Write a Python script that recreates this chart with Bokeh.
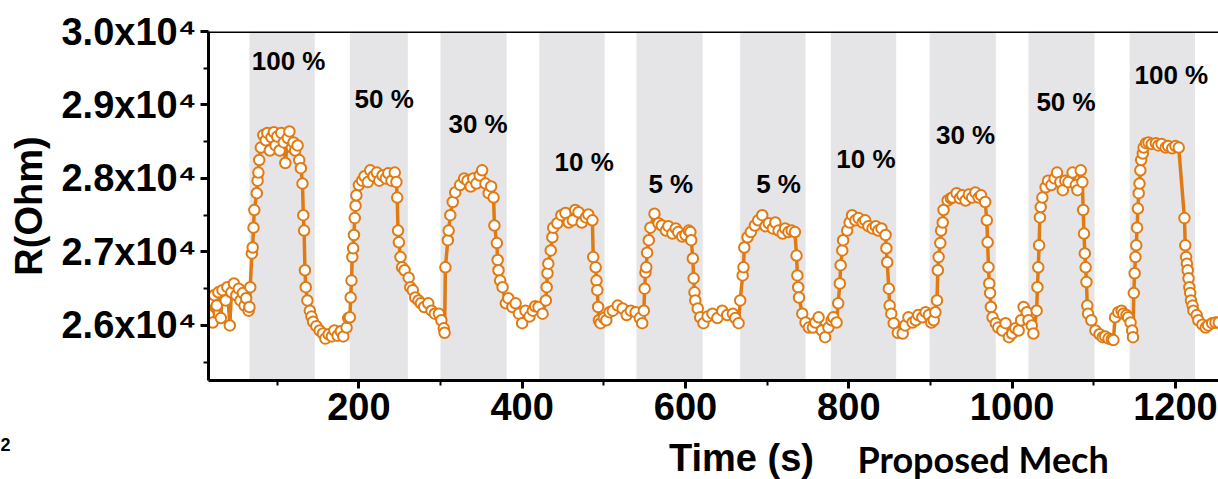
import math
from bokeh.plotting import figure
from bokeh.layouts import column
from bokeh.models import FixedTicker, Range1d, Label, Span, ColumnDataSource
from bokeh.core.properties import value
from bokeh.embed import file_html
from bokeh.resources import INLINE

# ---------------- data ----------------
t_base = [16, 18, 21, 23, 26, 28, 31, 33, 37, 39, 42, 44, 47, 50, 53, 55, 58, 60, 62, 65]
r_base = [26140, 26340, 26040, 26410, 26270, 26450, 26100, 26480, 26340, 26520, 26000, 26450,
          26570, 26410, 26500, 26340, 26440, 26270, 26370, 26200]

t_c1 = [66, 67, 69, 70, 71, 72, 75, 76, 77, 78, 80, 83, 86, 88, 91, 93, 96, 98, 100, 103, 105, 108,
        110, 113, 115, 118, 120, 122, 125, 127, 129, 131, 132, 133, 134, 135, 137, 140, 142, 144,
        148, 152, 156, 159, 163, 167, 170, 174, 178, 181, 185, 187]
r_c1 = [26250, 26520, 26980, 27060, 27330, 27570, 27800, 27970, 28080, 28250, 28420, 28590, 28520,
        28620, 28380, 28560, 28630, 28450, 28570, 28380, 28620, 28490, 28210, 28550, 28640, 28420,
        28490, 28380, 28450, 28250, 28140, 27930, 27500, 27290, 26750, 26520, 26340, 26200, 26120,
        26050, 25990, 25930, 25890, 25820, 25880, 25850, 25930, 25860, 25920, 25850, 25970, 26100]

t_c2 = [189, 190, 191, 192, 193, 194, 195, 196, 197, 200, 204, 207, 211, 214, 218, 222, 225, 229,
        233, 236, 240, 244, 246, 247, 248, 249, 251, 253, 256, 261, 263, 266, 269, 273, 276, 280,
        285, 289, 293, 298, 301, 304, 305]
r_c2 = [26110, 26380, 26610, 26930, 27050, 27230, 27460, 27630, 27770, 27910, 27970, 28030, 27950,
        28110, 28030, 28080, 27970, 28040, 28000, 28070, 27970, 28080, 27950, 27740, 27290, 27130,
        26930, 26790, 26750, 26650, 26520, 26480, 26380, 26340, 26300, 26250, 26300, 26200, 26160,
        26160, 26070, 25960, 25900]

t_c3 = [306, 309, 310, 312, 315, 318, 324, 329, 333, 337, 340, 344, 348, 351, 355, 359, 362, 365,
        366, 369, 370, 371, 373, 376, 380, 383, 388, 392, 396, 400, 404, 409, 413, 416, 420, 425]
r_c3 = [26790, 27160, 27290, 27500, 27680, 27810, 27910, 28000, 27970, 27890, 28000, 27930, 28040,
        28110, 27930, 27800, 27890, 27740, 27360, 27120, 26890, 26750, 26610, 26520, 26300, 26370,
        26250, 26300, 26160, 26030, 26200, 26120, 26200, 26260, 26250, 26160]

t_c4 = [429, 430, 431, 432, 435, 437, 438, 443, 448, 453, 457, 462, 465, 469, 473, 478, 481, 486,
        487, 490, 491, 492, 493, 494, 496, 500, 503, 507, 511, 517, 523, 528, 533, 539, 544, 547]
r_c4 = [26340, 26520, 26710, 26840, 27020, 27200, 27330, 27390, 27500, 27530, 27400, 27430, 27570,
        27540, 27400, 27470, 27510, 27430, 26930, 26790, 26610, 26480, 26250, 26070, 26030, 26100,
        26070, 26180, 26200, 26270, 26230, 26140, 26200, 26180, 26100, 26030]

t_c5 = [549, 550, 551, 552, 553, 555, 557, 562, 567, 571, 576, 579, 584, 588, 591, 596, 600, 604,
        606, 607, 609, 610, 611, 612, 615, 618, 622, 627, 633, 639, 645, 651, 658, 661, 665]
r_c5 = [26200, 26500, 26720, 26790, 26990, 27160, 27330, 27520, 27390, 27360, 27290, 27350, 27250,
        27320, 27270, 27210, 27230, 27290, 27270, 27160, 26910, 26640, 26450, 26340, 26230, 26110,
        26030, 26120, 26160, 26100, 26200, 26140, 26160, 26100, 26030]

t_c6 = [667, 670, 671, 672, 676, 680, 685, 689, 694, 698, 702, 707, 710, 714, 719, 722, 726, 730,
        734, 736, 737, 738, 739, 743, 747, 751, 756, 759, 763, 767, 771, 775, 779, 781, 785]
r_c6 = [26340, 26680, 26790, 27060, 27200, 27270, 27360, 27430, 27500, 27350, 27390, 27320, 27400,
        27290, 27250, 27320, 27270, 27290, 27270, 26950, 26680, 26520, 26380, 26160, 26040, 25970,
        25970, 26040, 26110, 25930, 25840, 25970, 26070, 26110, 26040]

t_c7 = [787, 789, 790, 792, 793, 798, 801, 804, 808, 812, 817, 820, 824, 829, 833, 836, 840, 845,
        846, 847, 849, 850, 852, 855, 860, 866, 869, 873, 878, 882, 885, 890, 894, 898, 901, 904, 906]
r_c7 = [26300, 26570, 26820, 27020, 27160, 27290, 27400, 27500, 27430, 27460, 27400, 27430, 27350,
        27320, 27350, 27290, 27320, 27230, 27050, 26860, 26500, 26270, 26160, 26030, 25900, 25890,
        26000, 26110, 26040, 26070, 26140, 26110, 26180, 26140, 26040, 26070, 26180]

t_c8 = [908, 909, 910, 912, 913, 915, 916, 921, 925, 927, 932, 936, 939, 943, 947, 951, 955, 959,
        962, 967, 969, 970, 971, 972, 973, 974, 976, 980, 983, 988, 992, 996, 1000, 1004, 1008,
        1011, 1014, 1018, 1020, 1024, 1026]
r_c8 = [26340, 26750, 26930, 27120, 27290, 27400, 27570, 27700, 27730, 27740, 27800, 27730, 27770,
        27700, 27780, 27740, 27810, 27740, 27770, 27680, 27430, 27130, 26790, 26570, 26440, 26250,
        26110, 26030, 25970, 25930, 26030, 25840, 25890, 25960, 25930, 26070, 26250, 26180, 26070,
        26000, 25890]

t_c9 = [1030, 1031, 1032, 1033, 1034, 1035, 1037, 1041, 1044, 1048, 1052, 1055, 1059, 1062, 1065,
        1069, 1074, 1078, 1080, 1084, 1086, 1087, 1088, 1089, 1090, 1091, 1092, 1093, 1097, 1102,
        1107, 1111, 1114, 1118, 1122, 1124, 1126, 1130, 1134, 1136, 1140, 1142, 1145, 1147, 1148]
r_c9 = [26200, 26520, 26790, 27090, 27470, 27610, 27740, 27880, 27970, 27910, 28000, 28080, 27950,
        27840, 27970, 27950, 28080, 27910, 27840, 28110, 27950, 27570, 27250, 26980, 26790, 26590,
        26270, 26160, 26070, 25930, 25880, 25840, 25850, 25820, 25810, 25800, 26110, 26180, 26200,
        26160, 26140, 26110, 26040, 25930, 25840]

t_c10 = [1149, 1150, 1151, 1152, 1153, 1154, 1155, 1156, 1157, 1158, 1160, 1161, 1164, 1167, 1171,
         1176, 1179, 1183, 1188, 1191, 1196, 1200, 1204, 1211, 1212, 1213, 1214, 1215, 1216, 1217,
         1218, 1219, 1221, 1222, 1226, 1228, 1233, 1237, 1240, 1245, 1249, 1253]
r_c10 = [26440, 26710, 26930, 27090, 27330, 27590, 27800, 27930, 28110, 28250, 28340, 28420, 28480,
         28490, 28470, 28480, 28450, 28470, 28420, 28440, 28410, 28440, 28420, 27460, 27090, 26930,
         26840, 26750, 26640, 26520, 26440, 26340, 26270, 26200, 26140, 26070, 26010, 25970, 26000,
         26030, 26040, 26040]

# gas-on intervals (s)
band_start = [66, 189, 300, 421, 540, 667, 778, 899, 1020, 1144]
band_end = [146, 260, 381, 501, 621, 747, 858, 980, 1101, 1224]

# concentration labels
conc_labels = ["100 %", "50 %", "30 %", "10 %", "5 %", "5 %", "10 %", "30 %", "50 %", "100 %"]
conc_t = [114, 231, 346, 476, 582, 714, 821, 943, 1066, 1195]
conc_r = [29596, 29085, 28738, 28220, 27927, 27927, 28261, 28595, 29044, 29405]

x_ticks = [200, 400, 600, 800, 1000, 1200]
x_minor = [100, 300, 500, 700, 900, 1100]
y_ticks = [26000, 27000, 28000, 29000, 30000]
y_minor = [25500, 26500, 27500, 28500, 29500]
y_tick_labels = ["2.6x10\u2074", "2.7x10\u2074", "2.8x10\u2074", "2.9x10\u2074", "3.0x10\u2074"]

time_s = t_base + t_c1 + t_c2 + t_c3 + t_c4 + t_c5 + t_c6 + t_c7 + t_c8 + t_c9 + t_c10
resistance = r_base + r_c1 + r_c2 + r_c3 + r_c4 + r_c5 + r_c6 + r_c7 + r_c8 + r_c9 + r_c10

# ---------------- styling ----------------
ORANGE = "#E07B13"
GRAY = "#E5E4E7"
FONT = "Liberation Sans"
X0, X1 = 15.9, 1252.7
Y0, Y1 = 25250, 30000
W = 1218
H_TOP = 436
H_BOT = 479 - H_TOP

p = figure(width=W, height=H_TOP, x_range=Range1d(X0, X1), y_range=Range1d(Y0, Y1),
           output_backend="svg", toolbar_location=None,
           min_border_left=208, min_border_right=0, min_border_top=31,
           min_border_bottom=H_TOP - 380)
p.outline_line_color = None
p.xgrid.visible = False
p.ygrid.visible = False
p.background_fill_color = "white"
p.border_fill_color = "white"

p.quad(left=band_start, right=band_end, bottom=Y0, top=Y1, fill_color=GRAY, line_color=None)

src = ColumnDataSource(dict(t=time_s, r=resistance))
p.line("t", "r", source=src, line_color=ORANGE, line_width=3.5)
p.scatter("t", "r", source=src, marker="circle", size=10.5, fill_color="white",
          line_color=ORANGE, line_width=2)

lsrc = ColumnDataSource(dict(x=conc_t, y=conc_r, text=conc_labels))
p.text("x", "y", text="text", source=lsrc, text_align="center", text_baseline="middle",
       text_font=value(FONT), text_font_style="bold", text_font_size="26px", text_color="black")

for ax in (p.xaxis[0], p.yaxis[0]):
    ax.axis_line_width = 3
    ax.axis_line_color = "black"
    ax.major_tick_line_width = 3
    ax.minor_tick_line_width = 2
    ax.major_tick_out = 8
    ax.major_tick_in = 0
    ax.minor_tick_out = 5
    ax.minor_tick_in = 0
    ax.major_label_text_font = FONT
    ax.major_label_text_font_style = "bold"
    ax.major_label_text_font_size = "38px"
    ax.major_label_text_color = "black"
    ax.major_label_standoff = 4

p.xaxis.ticker = FixedTicker(ticks=x_ticks, minor_ticks=x_minor)
p.yaxis.ticker = FixedTicker(ticks=y_ticks, minor_ticks=y_minor)
p.yaxis.major_label_overrides = {v: s for v, s in zip(y_ticks, y_tick_labels)}

p.yaxis.axis_label = "R(Ohm)"
p.yaxis.axis_label_text_font = FONT
p.yaxis.axis_label_text_font_style = "bold"
p.yaxis.axis_label_text_font_size = "38px"
p.yaxis.axis_label_text_color = "black"
p.yaxis.axis_label_standoff = 8

p.add_layout(Span(location=Y1, dimension="width", line_color="black", line_width=3))

# strip below the chart for the texts that sit under the axis
q = figure(width=W, height=H_BOT, y_range=Range1d(0, H_BOT),
           output_backend="svg", toolbar_location=None, x_axis_type=None, y_axis_type=None,
           min_border_left=0, min_border_right=0, min_border_top=0, min_border_bottom=0)
aligned_off = True
for fig in (p, q):
    try:
        fig.frame_align = False
    except Exception:
        aligned_off = False
q.x_range = Range1d(0, W) if aligned_off else Range1d(208, W)
q.outline_line_color = None
q.xgrid.visible = False
q.ygrid.visible = False
q.background_fill_color = "white"
q.border_fill_color = "white"

q.add_layout(Label(x=741, y=H_BOT, text="Time (s)", text_align="center",
                   text_baseline="top", text_font=FONT, text_font_style="bold",
                   text_font_size="38px", text_color="black"))
q.add_layout(Label(x=857, y=H_BOT, text="Proposed Mech", text_align="left",
                   text_baseline="top", text_font="Lato", text_font_style="bold",
                   text_font_size="36px", text_color="black"))
q.add_layout(Label(x=0 if aligned_off else 208, y=H_BOT - 1, text="2", text_align="left",
                   text_baseline="top", text_font=FONT, text_font_style="bold",
                   text_font_size="18px", text_color="black"))

layout = column(p, q, spacing=0)
open("out.html", "w").write(file_html(layout, INLINE))
